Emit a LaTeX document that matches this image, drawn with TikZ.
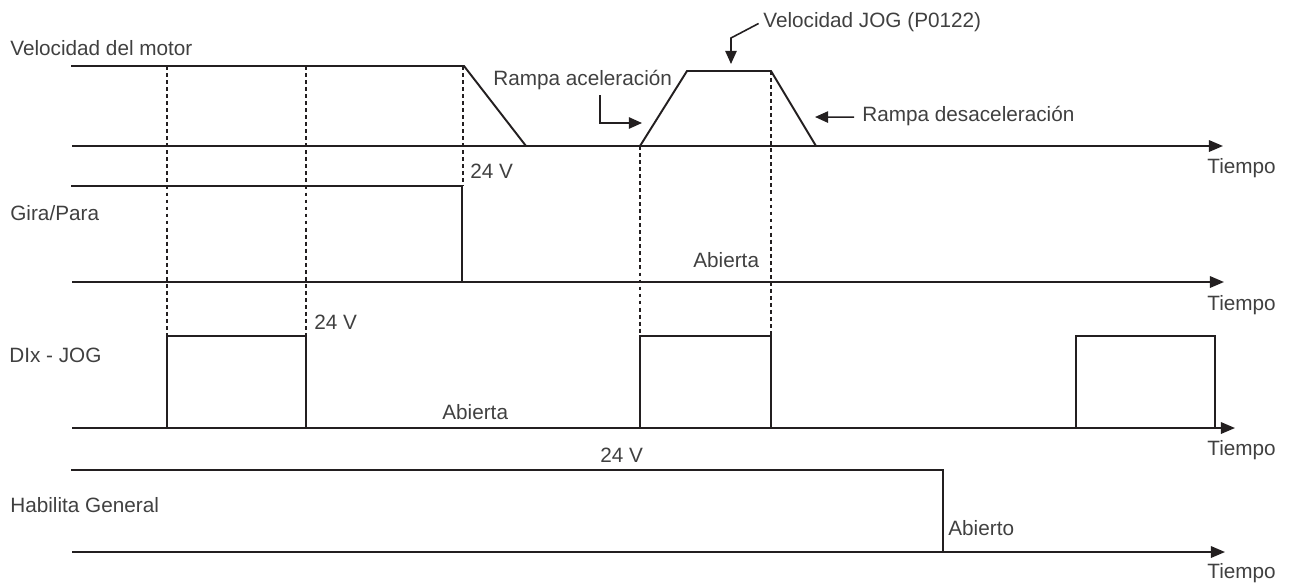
\documentclass[tikz,border=0pt]{standalone}
\usepackage{fontspec}
\setmainfont{Liberation Sans}
\usetikzlibrary{arrows.meta}
\definecolor{txtgray}{HTML}{404040}
\definecolor{linecol}{HTML}{231F20}
\tikzset{
  lbl/.style={font=\fontsize{11.8}{13}\selectfont, text=txtgray, inner sep=0pt, anchor=base west},
  sig/.style={draw=linecol, line width=1.1pt},
  axis/.style={sig, -{Triangle[length=8pt,width=6.5pt]}},
  guide/.style={draw=linecol, line width=0.9pt, dash pattern=on 2.2pt off 1.8pt},
  ann/.style={draw=linecol, line width=0.9pt, -{Triangle[length=7.5pt,width=6.5pt]}},
}

\begin{document}
\begin{tikzpicture}[x=0.02cm, y=-0.02cm]
    \useasboundingbox (0,0) rectangle (1295,582);
    % lineas de referencia
    \draw[guide] (167,66) -- (167,336);
    \draw[guide] (306,66) -- (306,336);
    \draw[guide] (463,66) -- (463,186);
    \draw[guide] (640,146) -- (640,336);
    \draw[guide] (771,71) -- (771,336);
    % ejes de tiempo
    \draw[axis] (72,146) -- (1223,146);
    \draw[axis] (72,282) -- (1224,282);
    \draw[axis] (72,428) -- (1235,428);
    \draw[axis] (72,552) -- (1225,552);
    % senales
    \draw[sig] (71,66) -- (464,66) -- (526,146);
    \draw[sig] (640,146) -- (687,71) -- (771,71) -- (816,146);
    \draw[sig] (71,186) -- (462,186) -- (462,282);
    \draw[sig] (167,428) |- (306,336) -- (306,428);
    \draw[sig] (640,428) |- (771,336) -- (771,428);
    \draw[sig] (1076,428) |- (1215,336) -- (1215,428);
    \draw[sig] (71,470) -- (943,470) -- (943,552);
    % nombres de las senales
    \node[lbl] (motor) at (10,55) {Velocidad del motor};
    \node[lbl] (girapara) at (10,220) {Gira/Para};
    \node[lbl] (dijog) at (9,362) {DIx - JOG};
    \node[lbl] (habgen) at (10,512) {Habilita General};
    \node[lbl] (tiempo1) at (1207,173) {Tiempo};
    \node[lbl] (tiempo2) at (1207,310) {Tiempo};
    \node[lbl] (tiempo3) at (1207,455) {Tiempo};
    \node[lbl] (tiempo4) at (1207,578) {Tiempo};
    % niveles
    \node[lbl] (volt1) at (470,178) {24 V};
    \node[lbl] (volt2) at (314,329) {24 V};
    \node[lbl] (volt3) at (600,462) {24 V};
    \node[lbl] (abierta1) at (693,267) {Abierta};
    \node[lbl] (abierta2) at (442,419) {Abierta};
    \node[lbl] (abierto) at (948,535) {Abierto};
    % rampas
    \node[lbl] (veljog) at (763,27) {Velocidad JOG (P0122)};
    \node[lbl] (rampacc) at (493,85) {Rampa aceleración};
    \node[lbl] (rampdec) at (862,121) {Rampa desaceleración};
    \coordinate (jogtip) at (731,64);
    \coordinate (acctip) at (642,123);
    \coordinate (dectip) at (815,117);
    \draw[ann] ([xshift=-2.5pt,yshift=2pt]veljog.base west) -- (731,38) -- (jogtip);
    \draw[ann] (600,95) |- (acctip);
    \draw[ann] ([xshift=-4.5pt,yshift=2.2pt]rampdec.base west) -- (dectip);
  \end{tikzpicture}
\end{document}
